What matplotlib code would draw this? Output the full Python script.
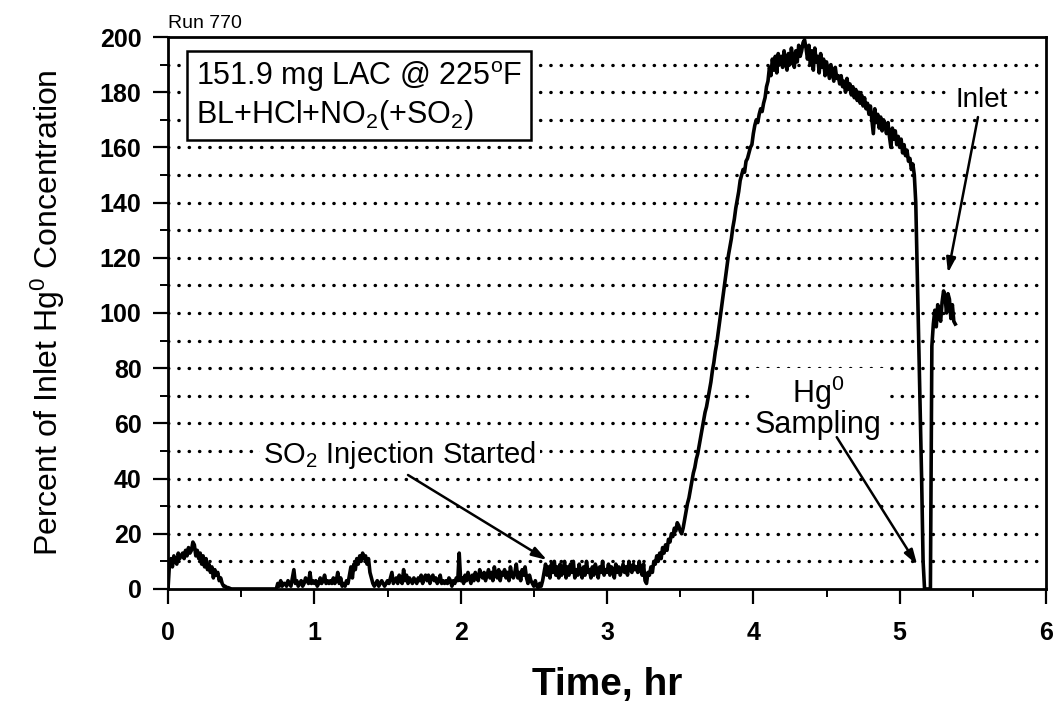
import numpy as np
import matplotlib
matplotlib.use("Agg")
from matplotlib import pyplot as plt
from matplotlib.ticker import MultipleLocator

plt.rcParams["font.family"] = ["Liberation Sans", "DejaVu Sans"]
plt.rcParams["mathtext.fontset"] = "custom"
plt.rcParams["mathtext.rm"] = "Liberation Sans"
plt.rcParams["mathtext.it"] = "Liberation Sans:italic"
plt.rcParams["mathtext.bf"] = "Liberation Sans:bold"

# analyzer log, one reading every 0.01 hr (each row = 0.1 hr)
sample_step_hr = 0.01
pct_inlet = [
    0, 9, 11, 8, 12, 10, 9, 13, 11, 12,              # 0.0
    13, 11, 14, 12, 15, 13, 14, 17, 16, 12,
    14, 11, 13, 9, 12, 8, 11, 7, 9, 6,
    8, 4, 7, 5, 6, 3, 4, 2, 1, 1,
    0.5, 0.5, 0.3, 0, 0, 0, 0, 0, 0, 0,
    0, 0, 0, 0, 0, 0, 0, 0, 0, 0,                    # 0.5
    0, 0, 0, 0, 0, 0, 0, 0, 0, 0,
    0, 0, 0, 0, 0, 2, 1, 3, 1, 2,
    2, 1, 3, 2, 1, 4, 7, 2, 3, 1,
    2, 3, 1, 2, 4, 3, 2, 6, 2, 3,
    2, 3, 1, 2, 4, 2, 3, 5, 2, 3,                    # 1.0
    2, 3, 2, 4, 2, 3, 6, 2, 4, 1,
    2, 1, 3, 2, 5, 8, 4, 9, 7, 11,
    9, 12, 10, 13, 11, 12, 9, 11, 6, 4,
    2, 1, 2, 3, 1, 2, 3, 2, 1, 2,
    3, 2, 4, 6, 2, 3, 4, 2, 5, 3,                    # 1.5
    2, 7, 3, 5, 2, 4, 3, 2, 4, 3,
    2, 4, 3, 5, 2, 4, 5, 3, 5, 2,
    4, 5, 3, 4, 2, 3, 5, 2, 3, 2,
    3, 2, 4, 3, 1, 3, 2, 4, 3, 13,
    3, 4, 2, 5, 3, 6, 4, 2, 5, 3,                    # 2.0
    6, 4, 3, 7, 5, 4, 6, 3, 5, 7,
    4, 6, 3, 8, 5, 4, 7, 3, 6, 5,
    7, 4, 6, 3, 8, 5, 4, 6, 9, 4,
    6, 3, 7, 5, 8, 4, 2, 5, 3, 2,
    1, 3, 1, 0.5, 2, 1, 3, 6, 9, 5,                  # 2.5
    8, 4, 9, 6, 10, 5, 8, 4, 9, 5,
    7, 10, 4, 8, 5, 9, 6, 10, 4, 7,
    5, 9, 6, 4, 8, 5, 10, 6, 7, 4,
    8, 5, 9, 7, 4, 8, 6, 10, 5, 7,
    6, 9, 5, 8, 7, 4, 9, 6, 8, 5,                    # 3.0
    7, 9, 6, 8, 5, 10, 7, 6, 9, 7,
    8, 6, 10, 7, 5, 9, 3, 2, 6, 5,
    8, 6, 10, 9, 12, 10, 13, 11, 15, 13,
    16, 14, 18, 17, 20, 19, 22, 21, 24, 23,
    21, 20, 22, 25, 28, 31, 33, 36, 39, 42,          # 3.5
    44, 47, 49, 52, 55, 58, 61, 64, 66, 69,
    72, 75, 79, 82, 86, 89, 93, 97, 101, 105,
    109, 113, 117, 121, 124, 127, 131, 134, 138, 141,
    144, 148, 150, 152, 151, 155, 156, 158, 160, 161,
    165, 168, 170, 169, 172, 174, 173, 176, 178, 182,  # 4.0
    184, 189, 186, 192, 188, 193, 187, 194, 190, 193,
    189, 195, 191, 188, 194, 190, 196, 192, 189, 195,
    191, 197, 193, 195, 198, 199, 196, 192, 197, 190,
    195, 188, 196, 191, 193, 187, 194, 189, 192, 186,
    191, 188, 185, 190, 187, 184, 189, 185, 186, 183,  # 4.5
    186, 182, 184, 180, 185, 181, 183, 179, 182, 178,
    181, 177, 180, 176, 179, 175, 178, 174, 176, 172,
    175, 170, 165, 174, 169, 172, 167, 171, 166, 170,
    168, 165, 169, 164, 160, 167, 163, 166, 161, 164,
    160, 163, 158, 161, 157, 159, 155, 156, 152, 154,  # 5.0
    150, 140, 115, 90, 65, 40, 10, 0, 0, 0,
    0, 0, 88, 96, 101, 95, 103, 99, 97, 104,
    108, 106, 100, 107, 105, 98, 103, 97, 96,
]
time_hr = np.arange(len(pct_inlet)) * sample_step_hr

x_ticks = [0, 1, 2, 3, 4, 5, 6]
y_ticks = [0, 20, 40, 60, 80, 100, 120, 140, 160, 180, 200]
grid_levels = list(range(10, 200, 10))

fig = plt.figure(figsize=(10.6, 7.12), dpi=100)
ax = fig.add_axes([0.1585, 0.1728, 0.8283, 0.7752])

for level in grid_levels:
    ax.axhline(level, color="black", lw=2.4, linestyle=(0, (0.1, 3.0)),
               dash_capstyle="round", zorder=1)

ax.plot(time_hr, pct_inlet, color="black", lw=2.6, zorder=4)

ax.set_xlim(0, 6)
ax.set_ylim(0, 200)
ax.set_xticks(x_ticks)
ax.set_yticks(y_ticks)
ax.xaxis.set_minor_locator(MultipleLocator(0.5))
ax.yaxis.set_minor_locator(MultipleLocator(10))
ax.tick_params(which="major", direction="out", length=11, width=1.6,
               labelsize=18, pad=12)
ax.tick_params(which="minor", direction="out", length=6, width=1.4)
ax.tick_params(axis="y", which="major", pad=8)
for lab in ax.get_xticklabels() + ax.get_yticklabels():
    lab.set_fontweight("bold")
for sp in ax.spines.values():
    sp.set_linewidth(2.0)

ax.set_xlabel("Time, hr", fontsize=28, fontweight="bold", labelpad=16)
ax.set_ylabel("Percent of Inlet Hg$^{\\rm 0}$ Concentration", fontsize=23,
              labelpad=24)

ax.text(0, 1.01, "Run 770", transform=ax.transAxes, ha="left",
        va="bottom", fontsize=14)

ax.text(0.19, 192, "151.9 mg LAC @ 225$^{\\rm o}$F\nBL+HCl+NO$_2$(+SO$_2$)",
        fontsize=22, ha="left", va="top", linespacing=1.15, zorder=5,
        bbox=dict(boxstyle="square,pad=0.28", facecolor="white",
                  edgecolor="black", lw=1.8))

arrow = dict(arrowstyle="-|>,head_length=0.9,head_width=0.28", color="black",
             lw=1.8, shrinkA=0, shrinkB=0)
text_bg = dict(boxstyle="square,pad=0.12", facecolor="white", edgecolor="none")

ax.text(1.585, 48.5, "SO$_2$ Injection Started", fontsize=21, ha="center",
        va="center", bbox=text_bg, zorder=3)
ax.annotate("", xy=(2.59, 10.5), xytext=(1.64, 41.3), arrowprops=arrow,
            zorder=5)

ax.text(4.44, 66, "Hg$^{\\rm 0}$\nSampling", fontsize=22, ha="center",
        va="center", linespacing=0.95, bbox=text_bg, zorder=3)
ax.annotate("", xy=(5.12, 8.7), xytext=(4.57, 55), arrowprops=arrow,
            zorder=5)

ax.text(5.56, 177, "Inlet", fontsize=20, ha="center", va="center",
        bbox=text_bg, zorder=3)
ax.annotate("", xy=(5.33, 114.5), xytext=(5.535, 171), arrowprops=arrow,
            zorder=5)

fig.savefig("out.png", dpi=100)
